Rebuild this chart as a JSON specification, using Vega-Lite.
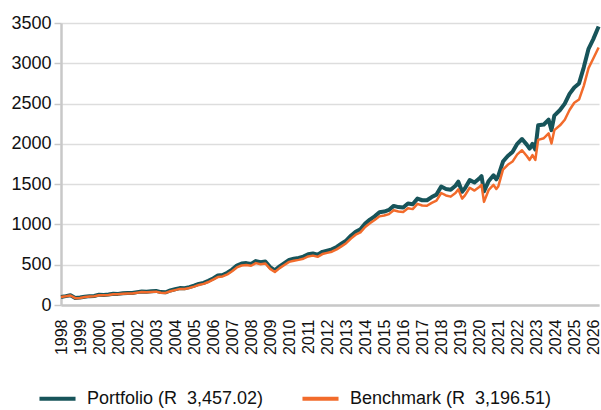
{
  "$schema": "https://vega.github.io/schema/vega-lite/v6.json",
  "autosize": {"type": "none"},
  "padding": {"left": 61, "top": 23, "right": 2, "bottom": 105},
  "width": 538,
  "height": 282,
  "background": "white",
  "config": {
    "view": {"stroke": null},
    "font": "Liberation Sans",
    "axis": {"labelFont": "Liberation Sans", "labelColor": "#111111", "titleColor": "#111111"},
    "legend": {"labelFont": "Liberation Sans"}
  },
  "datasets": {
    "series": [
      {"t":1998.00,"p":100,"b":100},{"t":1998.25,"p":110,"b":108},{"t":1998.50,"p":122,"b":118},{"t":1998.75,"p":88,"b":85},
      {"t":1999.00,"p":92,"b":88},{"t":1999.25,"p":102,"b":98},{"t":1999.50,"p":110,"b":106},{"t":1999.75,"p":112,"b":108},
      {"t":2000.00,"p":128,"b":122},{"t":2000.25,"p":125,"b":120},{"t":2000.50,"p":130,"b":125},{"t":2000.75,"p":140,"b":134},
      {"t":2001.00,"p":138,"b":132},{"t":2001.25,"p":145,"b":139},{"t":2001.50,"p":150,"b":144},{"t":2001.75,"p":148,"b":142},
      {"t":2002.00,"p":160,"b":153},{"t":2002.25,"p":168,"b":160},{"t":2002.50,"p":165,"b":157},{"t":2002.75,"p":170,"b":162},
      {"t":2003.00,"p":175,"b":166},{"t":2003.25,"p":160,"b":152},{"t":2003.50,"p":158,"b":150},{"t":2003.75,"p":180,"b":171},
      {"t":2004.00,"p":195,"b":185},{"t":2004.25,"p":210,"b":200},{"t":2004.50,"p":208,"b":198},{"t":2004.75,"p":222,"b":211},
      {"t":2005.00,"p":240,"b":228},{"t":2005.25,"p":262,"b":249},{"t":2005.50,"p":275,"b":262},{"t":2005.75,"p":300,"b":285},
      {"t":2006.00,"p":330,"b":314},{"t":2006.25,"p":365,"b":347},{"t":2006.50,"p":372,"b":354},{"t":2006.75,"p":400,"b":380},
      {"t":2007.00,"p":440,"b":418},{"t":2007.25,"p":490,"b":466},{"t":2007.50,"p":515,"b":490},{"t":2007.75,"p":520,"b":496},
      {"t":2008.00,"p":510,"b":487},{"t":2008.25,"p":545,"b":520},{"t":2008.50,"p":530,"b":506},{"t":2008.75,"p":540,"b":515},
      {"t":2009.00,"p":470,"b":448},{"t":2009.25,"p":430,"b":410},{"t":2009.50,"p":480,"b":458},{"t":2009.75,"p":520,"b":497},
      {"t":2010.00,"p":560,"b":535},{"t":2010.25,"p":575,"b":550},{"t":2010.50,"p":585,"b":560},{"t":2010.75,"p":600,"b":574},
      {"t":2011.00,"p":630,"b":603},{"t":2011.25,"p":640,"b":613},{"t":2011.50,"p":625,"b":598},{"t":2011.75,"p":660,"b":632},
      {"t":2012.00,"p":675,"b":647},{"t":2012.25,"p":690,"b":661},{"t":2012.50,"p":720,"b":690},{"t":2012.75,"p":760,"b":728},
      {"t":2013.00,"p":800,"b":767},{"t":2013.25,"p":860,"b":824},{"t":2013.50,"p":910,"b":872},{"t":2013.75,"p":940,"b":901},
      {"t":2014.00,"p":1010,"b":968},{"t":2014.25,"p":1060,"b":1015},{"t":2014.50,"p":1100,"b":1054},{"t":2014.75,"p":1150,"b":1100},
      {"t":2015.00,"p":1160,"b":1110},{"t":2015.25,"p":1180,"b":1128},{"t":2015.50,"p":1230,"b":1175},{"t":2015.75,"p":1215,"b":1160},
      {"t":2016.00,"p":1210,"b":1155},{"t":2016.25,"p":1260,"b":1200},{"t":2016.50,"p":1250,"b":1190},{"t":2016.75,"p":1320,"b":1255},
      {"t":2017.00,"p":1300,"b":1235},{"t":2017.25,"p":1300,"b":1232},{"t":2017.50,"p":1340,"b":1268},{"t":2017.75,"p":1370,"b":1295},
      {"t":2018.00,"p":1470,"b":1390},{"t":2018.25,"p":1440,"b":1360},{"t":2018.50,"p":1430,"b":1345},{"t":2018.75,"p":1480,"b":1390},
      {"t":2018.90,"p":1530,"b":1435},{"t":2019.10,"p":1405,"b":1320},{"t":2019.25,"p":1450,"b":1360},{"t":2019.50,"p":1550,"b":1455},
      {"t":2019.75,"p":1520,"b":1420},{"t":2020.00,"p":1570,"b":1465},{"t":2020.12,"p":1600,"b":1490},{"t":2020.25,"p":1410,"b":1280},
      {"t":2020.50,"p":1540,"b":1430},{"t":2020.75,"p":1610,"b":1490},{"t":2020.90,"p":1560,"b":1440},{"t":2021.00,"p":1600,"b":1470},
      {"t":2021.25,"p":1780,"b":1680},{"t":2021.50,"p":1850,"b":1740},{"t":2021.75,"p":1900,"b":1780},{"t":2022.00,"p":2000,"b":1870},
      {"t":2022.25,"p":2060,"b":1920},{"t":2022.50,"p":1990,"b":1850},{"t":2022.65,"p":1940,"b":1800},{"t":2022.80,"p":2000,"b":1860},
      {"t":2022.95,"p":1930,"b":1800},{"t":2023.10,"p":2230,"b":2050},{"t":2023.40,"p":2240,"b":2070},{"t":2023.65,"p":2300,"b":2130},
      {"t":2023.80,"p":2170,"b":2005},{"t":2023.95,"p":2350,"b":2170},{"t":2024.25,"p":2420,"b":2230},{"t":2024.50,"p":2500,"b":2300},
      {"t":2024.75,"p":2620,"b":2420},{"t":2025.00,"p":2700,"b":2510},{"t":2025.25,"p":2750,"b":2550},{"t":2025.50,"p":2950,"b":2720},
      {"t":2025.75,"p":3180,"b":2940},{"t":2026.00,"p":3300,"b":3060},{"t":2026.28,"p":3457.02,"b":3196.51}
    ]
  },
  "data": {"name": "series"},
  "transform": [
    {"fold": ["p", "b"], "as": ["key", "value"]},
    {"calculate": "datum.key == 'p' ? 'Portfolio' : 'Benchmark'", "as": "series"}
  ],
  "encoding": {
    "x": {
      "field": "t", "type": "quantitative",
      "scale": {"domain": [1998, 2026.3], "nice": false, "zero": false},
      "axis": {
        "title": null, "values": [1998,1999,2000,2001,2002,2003,2004,2005,2006,2007,2008,2009,2010,2011,2012,2013,2014,2015,2016,2017,2018,2019,2020,2021,2022,2023,2024,2025,2026],
        "format": "d", "labelAngle": 270, "labelAlign": "right", "labelBaseline": "middle",
        "labelFontSize": 16, "labelPadding": 14, "ticks": false, "grid": false,
        "domainColor": "#c8c8c8", "domainWidth": 2.5, "labelOverlap": false, "labelBound": false, "labelFlush": false
      }
    },
    "y": {
      "field": "value", "type": "quantitative",
      "scale": {"domain": [0, 3500], "nice": false},
      "axis": {
        "title": null, "values": [0,500,1000,1500,2000,2500,3000,3500], "format": "d",
        "labelFontSize": 18, "labelPadding": 3, "tickSize": 7, "tickColor": "#c8c8c8", "tickWidth": 1.5,
        "gridColor": "#dddddd", "gridWidth": 1.5, "domainColor": "#c8c8c8", "domainWidth": 2.5
      }
    },
    "color": {
      "field": "series", "type": "nominal",
      "scale": {"domain": ["Portfolio", "Benchmark"], "range": ["#17545a", "#f26b2b"]},
      "legend": {
        "title": null, "orient": "none", "direction": "horizontal", "legendX": -24, "legendY": 355,
        "symbolType": "stroke", "symbolSize": 1300, "symbolStrokeWidth": 4, "labelFontSize": 18,
        "labelColor": "#111111", "labelOffset": 9, "columnPadding": 30, "labelLimit": 400,
        "labelExpr": "datum.label == 'Portfolio' ? 'Portfolio (R\u00a0 3,457.02)' : 'Benchmark (R\u00a0 3,196.51)'"
      }
    }
  },
  "layer": [
    {"transform": [{"filter": "datum.series == 'Portfolio'"}], "mark": {"type": "line", "strokeWidth": 4, "strokeJoin": "round"}},
    {"transform": [{"filter": "datum.series == 'Benchmark'"}], "mark": {"type": "line", "strokeWidth": 2.5, "strokeJoin": "round"}}
  ]
}
